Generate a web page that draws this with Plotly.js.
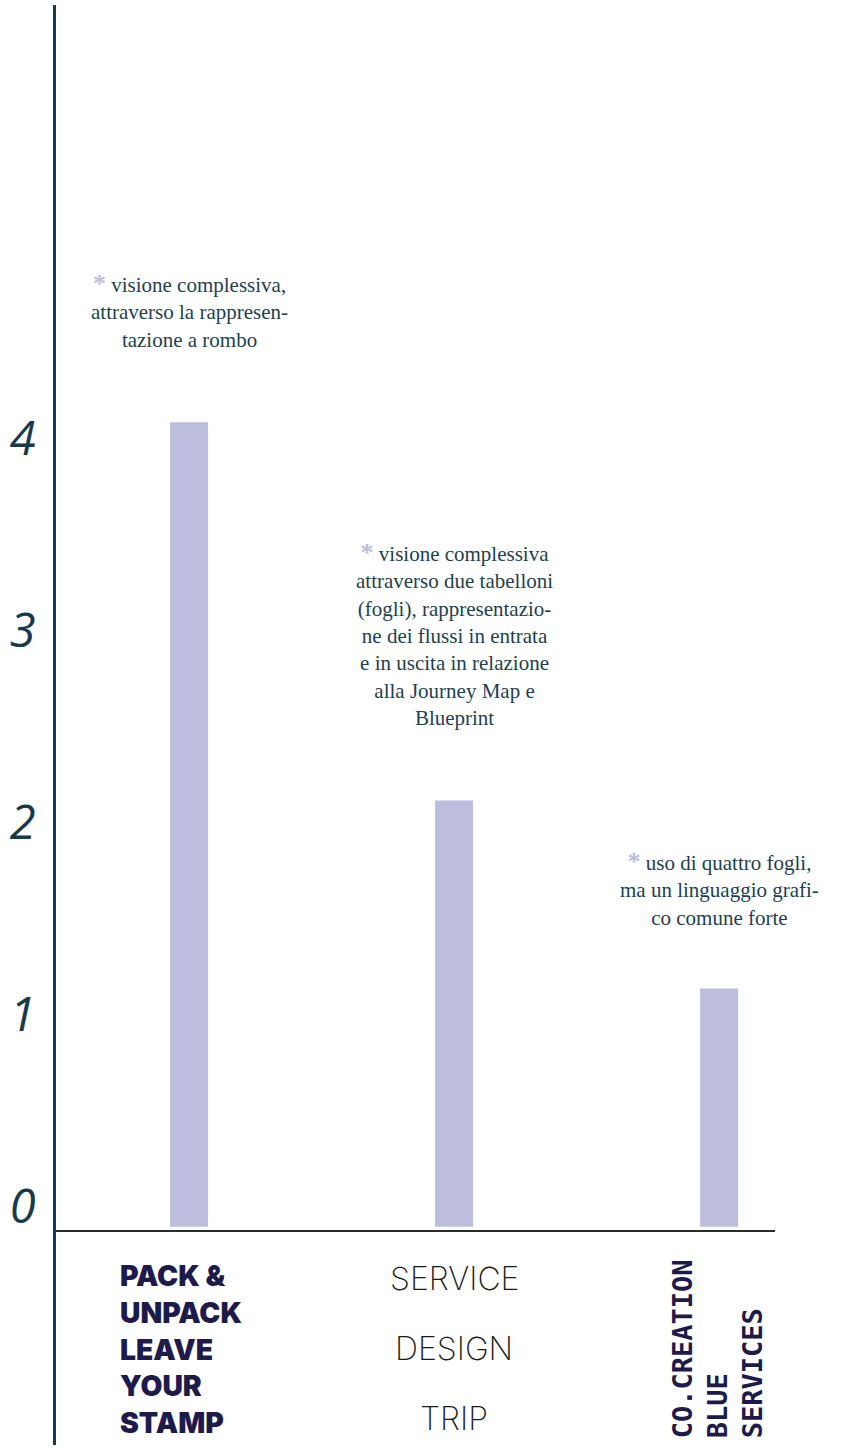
<!DOCTYPE html>
<html>
<head>
<meta charset="utf-8">
<script src="https://cdn.plot.ly/plotly-3.0.1.min.js"></script>
<style>
  html, body { margin: 0; padding: 0; background: #ffffff; }
  #chart { width: 844px; height: 1447px; }
</style>
</head>
<body>
<div id="chart"></div>
<script>
// ---- data ----
const categories = ["Pack & Unpack", "Service Design Trip", "Co.Creation Blue Services"];
const values = [4.19, 2.22, 1.24];
const yTicks = [0, 1, 2, 3, 4];
const notes = [
  "visione complessiva,<br>attraverso la rappresen-<br>tazione a rombo",
  "visione complessiva<br>attraverso due tabelloni<br>(fogli), rappresentazio-<br>ne dei flussi in entrata<br>e in uscita in relazione<br>alla Journey Map e<br>Blueprint",
  "uso di quattro fogli,<br>ma un linguaggio grafi-<br>co comune forte"
];
const label1 = ["PACK &", "UNPACK", "LEAVE", "YOUR", "STAMP"];
const label2 = ["SERVICE", "DESIGN", "TRIP"];
const label3 = ["CO.CREATION", "BLUE", "SERVICES"];

// ---- styles ----
const BAR = "#bdbddd";
const AXIS = "#163a4b";
const NOTE = "#1f3f4f";
const NAVY = "#1e1b4b";
const xIdx = categories.map((c, i) => i);

const noteShift = [68, 68, 57];
const annotations = [];
notes.forEach((t, i) => {
  annotations.push({
    x: i, y: values[i], xref: "x", yref: "y",
    xanchor: "center", yanchor: "bottom", yshift: noteShift[i],
    showarrow: false, align: "center",
    text: '<span style="color:' + BAR + ';font-size:26px"><b>*</b></span> ' + t,
    font: { family: "'Liberation Serif', 'DejaVu Serif', serif", size: 21, color: NOTE }
  });
});

annotations.push({
  x: 0, y: 0, xref: "x", yref: "y",
  xanchor: "left", yanchor: "top", xshift: -71, yshift: -30,
  showarrow: false, align: "left",
  text: label1.join("<br>"),
  font: { family: "Inter, 'Noto Sans', sans-serif", size: 28.3, weight: 900, color: NAVY }
});

label2.forEach((t, k) => {
  annotations.push({
    x: 1, y: 0, xref: "x", yref: "y",
    xanchor: "center", yanchor: "middle", yshift: -(52 + 70 * k),
    showarrow: false, align: "center",
    text: t,
    font: { family: "Inter, 'Noto Sans', sans-serif", size: 32, weight: 200, color: "#1a1a1a" }
  });
});

annotations.push({
  x: 2, y: 0, xref: "x", yref: "y",
  xanchor: "center", yanchor: "top", yshift: -31, xshift: -2,
  showarrow: false, align: "left", textangle: -90,
  text: label3.join("<br>"),
  font: { family: "'DejaVu Sans Mono', 'Liberation Mono', monospace", size: 27, weight: 700, color: NAVY }
});

const trace = {
  type: "bar",
  x: xIdx,
  y: values,
  width: 0.1434,
  marker: { color: BAR, line: { width: 0 } },
  hoverinfo: "skip"
};

const layout = {
  width: 844, height: 1447,
  margin: { l: 56, r: 69, t: 5, b: 2, pad: 0 },
  paper_bgcolor: "#ffffff", plot_bgcolor: "#ffffff",
  showlegend: false,
  xaxis: {
    range: [-0.502, 2.211],
    anchor: "free", position: 0.1488,
    showline: true, linecolor: "#2b2b2b", linewidth: 2.5,
    showgrid: false, zeroline: false, showticklabels: false, ticks: ""
  },
  yaxis: {
    range: [-1.137, 6.363],
    showline: true, linecolor: AXIS, linewidth: 3,
    showgrid: false, zeroline: false, ticks: "",
    tickvals: yTicks, ticktext: yTicks.map(String),
    ticklabelshift: -20, ticklabelstandoff: 8,
    tickfont: { family: "'Open Sans', sans-serif", size: 47, style: "italic", color: AXIS }
  },
  annotations: annotations
};

Plotly.newPlot("chart", [trace], layout, { staticPlot: true, displayModeBar: false });
</script>
</body>
</html>
